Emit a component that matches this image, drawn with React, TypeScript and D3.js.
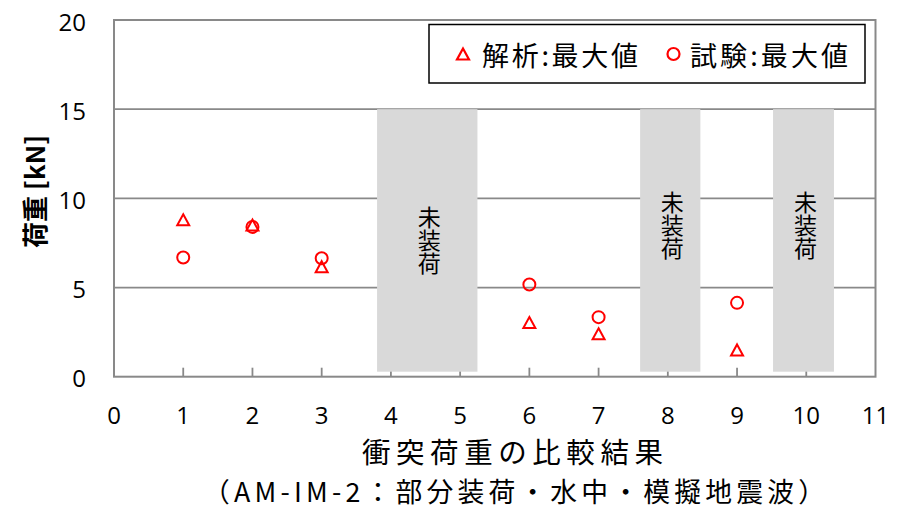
import React from "react";
import * as d3 from "d3";

const categories = [1, 2, 3, 6, 7, 9];
const analysisMax = [8.8, 8.5, 6.17, 3.04, 2.41, 1.5];
const testMax = [6.68, 8.4, 6.64, 5.17, 3.34, 4.14];
const xTicks = [0, 1, 2, 3, 4, 5, 6, 7, 8, 9, 10, 11];
const yTicks = [0, 5, 10, 15, 20];
const boxStart = [3.8, 7.6, 9.52];
const boxEnd = [5.25, 8.47, 10.4];
const boxBottom = [0.28, 0.28, 0.28];
const boxTop = [15, 15, 15];
const boxLabelY = [7.66, 8.5, 8.5];
const boxLabel = "未装荷";
const legendLabels = ["解析:最大値", "試験:最大値"];
const xTitle1 = "衝突荷重の比較結果";
const xTitle2 = "（AM-IM-2：部分装荷・水中・模擬地震波）";
const yTitle = "荷重 [kN]";

const W = 902;
const H = 510;
const L = 114;
const R = 875.5;
const T = 20;
const B = 376.7;

const FONT = "'Open Sans', 'Noto Sans CJK JP', sans-serif";
const CJK = "'Noto Sans CJK JP', sans-serif";
const GRAY = "#898989";
const RED = "#ff0000";

function triPath(cx: number, cy: number, w: number, h: number) {
  const p = d3.path();
  p.moveTo(cx, cy - h / 2);
  p.lineTo(cx + w / 2, cy + h / 2);
  p.lineTo(cx - w / 2, cy + h / 2);
  p.closePath();
  return p.toString();
}

export default function App() {
  const x = d3.scaleLinear().domain([0, 11]).range([L, R]);
  const y = d3.scaleLinear().domain([0, 20]).range([B, T]);

  return (
    <svg
      width={W}
      height={H}
      style={{ position: "absolute", left: 0, top: 0, background: "#fff" }}
    >
      <rect x={0} y={0} width={W} height={H} fill="#fff" />
      {/* gridlines */}
      {yTicks.filter((t) => t > 0 && t < 20).map((t) => (
        <line key={"g" + t} x1={L} x2={R} y1={y(t)} y2={y(t)} stroke={GRAY} strokeWidth={1.8} />
      ))}
      {/* ticks */}
      {xTicks.filter((t) => t > 0 && t < 11).map((t) => (
        <line key={"t" + t} x1={x(t)} x2={x(t)} y1={B} y2={B - 9} stroke={GRAY} strokeWidth={1.8} />
      ))}
      {/* boxes */}
      {boxStart.map((s, i) => (
        <g key={"b" + i}>
          <rect
            x={x(s)}
            y={y(boxTop[i])}
            width={x(boxEnd[i]) - x(s)}
            height={y(boxBottom[i]) - y(boxTop[i])}
            fill="#d9d9d9"
          />
          <text
            x={(x(s) + x(boxEnd[i])) / 2 + 2}
            y={y(boxLabelY[i])}
            fontFamily={CJK}
            fontSize={23}
            textAnchor="middle"
            style={{ writingMode: "vertical-rl" }}
            fill="#000"
          >
            {boxLabel}
          </text>
        </g>
      ))}
      {/* frame */}
      <rect x={L} y={T} width={R - L} height={B - T} fill="none" stroke={GRAY} strokeWidth={2} />
      {/* y tick labels */}
      {yTicks.map((t) => (
        <text
          key={"yl" + t}
          x={86}
          y={y(t) + 1}
          fontFamily={FONT}
          fontSize={24}
          textAnchor="end"
          dominantBaseline="central"
          fill="#000"
        >
          {t}
        </text>
      ))}
      {/* x tick labels */}
      {xTicks.map((t) => (
        <text
          key={"xl" + t}
          x={x(t)}
          y={414}
          fontFamily={FONT}
          fontSize={24}
          textAnchor="middle"
          dominantBaseline="central"
          fill="#000"
        >
          {t}
        </text>
      ))}
      {/* data */}
      {categories.map((c, i) => (
        <g key={"d" + i}>
          <circle cx={x(c)} cy={y(testMax[i])} r={6} fill="none" stroke={RED} strokeWidth={2} />
          <path d={triPath(x(c), y(analysisMax[i]), 12, 11)} fill="none" stroke={RED} strokeWidth={2} />
        </g>
      ))}
      {/* legend */}
      <rect x={429} y={24.5} width={436} height={58.5} fill="#fff" stroke="#000" strokeWidth={1.5} />
      <path d={triPath(463, 54, 12, 11)} fill="none" stroke={RED} strokeWidth={2.2} />
      <text
        x={482}
        y={54}
        fontFamily={CJK}
        fontSize={27}
        dominantBaseline="central"
        textLength={156}
        lengthAdjust="spacing"
        fill="#000"
      >
        {legendLabels[0]}
      </text>
      <circle cx={673.5} cy={54} r={6} fill="none" stroke={RED} strokeWidth={2.2} />
      <text
        x={690}
        y={54}
        fontFamily={CJK}
        fontSize={27}
        dominantBaseline="central"
        textLength={158}
        lengthAdjust="spacing"
        fill="#000"
      >
        {legendLabels[1]}
      </text>
      {/* axis titles */}
      <text
        x={512.5}
        y={450.5}
        fontFamily={CJK}
        fontSize={28.5}
        textAnchor="middle"
        dominantBaseline="central"
        textLength={301}
        lengthAdjust="spacing"
        fill="#000"
      >
        {xTitle1}
      </text>
      <text
        x={514}
        y={490.3}
        fontFamily={CJK}
        fontSize={26.8}
        textAnchor="middle"
        dominantBaseline="central"
        textLength={622}
        lengthAdjust="spacing"
        fill="#000"
      >
        {xTitle2}
      </text>
      <text
        transform={`translate(33,191.5) rotate(-90)`}
        fontFamily={CJK}
        fontSize={26}
        fontWeight="bold"
        textAnchor="middle"
        dominantBaseline="central"
        textLength={113}
        lengthAdjust="spacing"
        fill="#000"
      >
        {yTitle}
      </text>
    </svg>
  );
}
